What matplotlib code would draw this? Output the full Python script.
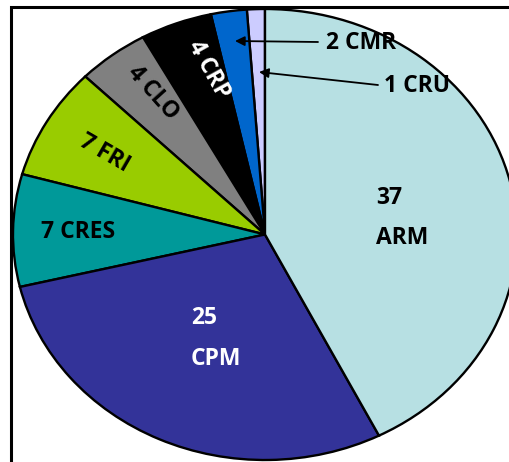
import matplotlib
matplotlib.use("Agg")
import matplotlib.pyplot as plt
from matplotlib.patches import Rectangle
from matplotlib.text import Annotation

# data (clockwise from 12 o'clock in the reference: ARM, CPM, CRES, FRI, CLO, CRP, CMR, CRU)
categories = ["CRU", "CMR", "CRP", "CLO", "FRI", "CRES", "CPM", "ARM"]
values = [1, 2, 4, 4, 7, 7, 25, 37]
colors = ["#CCCCFF", "#0066CC", "#000000", "#808080", "#99CC00", "#009999", "#333399", "#B7E0E3"]

W, H = 510, 462
fig = plt.figure(figsize=(W / 100, H / 100), dpi=100)

def fx(px):
    return px / W

def fy(py):
    return 1 - py / H

# outer frame (extends beyond right/bottom of the crop)
fig.patches.append(Rectangle((fx(11.5), fy(600)), fx(700), fy(7) - fy(600),
                             transform=fig.transFigure, fill=False,
                             edgecolor="black", linewidth=2.2, zorder=0))

# ellipse bbox: x 13..517, y 9..460 (pixels)
ax = fig.add_axes([fx(13), fy(460), fx(517) - fx(13), fy(9) - fy(460)])
ax.pie(values, colors=colors, startangle=90, counterclock=True,
       wedgeprops=dict(edgecolor="black", linewidth=1.7))
ax.set_aspect("auto")
ax.set_xlim(-1, 1)
ax.set_ylim(-1, 1)
ax.axis("off")
for p in ax.patches:
    p.set_clip_on(False)

font = dict(family="Open Sans", fontweight="bold", fontsize=16.5)
tf = fig.transFigure

def lab(px, py, s, color="black", rot=0, ha="center", va="center"):
    fig.text(fx(px), fy(py), s, color=color, rotation=rot, ha=ha, va=va,
             rotation_mode="anchor", transform=tf, **font)

vals = dict(zip(categories, values))
lab(376, 198, f"{vals['ARM']}", ha="left")
lab(376, 238, "ARM", ha="left")
lab(191, 318, f"{vals['CPM']}", color="white", ha="left")
lab(191, 359, "CPM", color="white", ha="left")
lab(41, 232, f"{vals['CRES']} CRES", ha="left")
lab(104, 153, f"{vals['FRI']} FRI", rot=-30)
lab(153, 93, f"{vals['CLO']} CLO", rot=-48)
lab(208, 70, f"{vals['CRP']} CRP", color="white", rot=-61)

# callouts
fig.text(fx(326), fy(43), f"{vals['CMR']} CMR", ha="left", va="center",
         color="black", transform=tf, **font)
fig.text(fx(384), fy(86), f"{vals['CRU']} CRU", ha="left", va="center",
         color="black", transform=tf, **font)
arrow = dict(arrowstyle="-|>", color="black", lw=1.3, mutation_scale=14, shrinkA=0, shrinkB=0)
fig.add_artist(Annotation("", xy=(fx(235), fy(41)), xytext=(fx(318), fy(42)),
                          xycoords=tf, textcoords=tf, arrowprops=arrow))
fig.add_artist(Annotation("", xy=(fx(259), fy(72)), xytext=(fx(378), fy(85)),
                          xycoords=tf, textcoords=tf, arrowprops=arrow))

fig.savefig("out.png", dpi=100)
